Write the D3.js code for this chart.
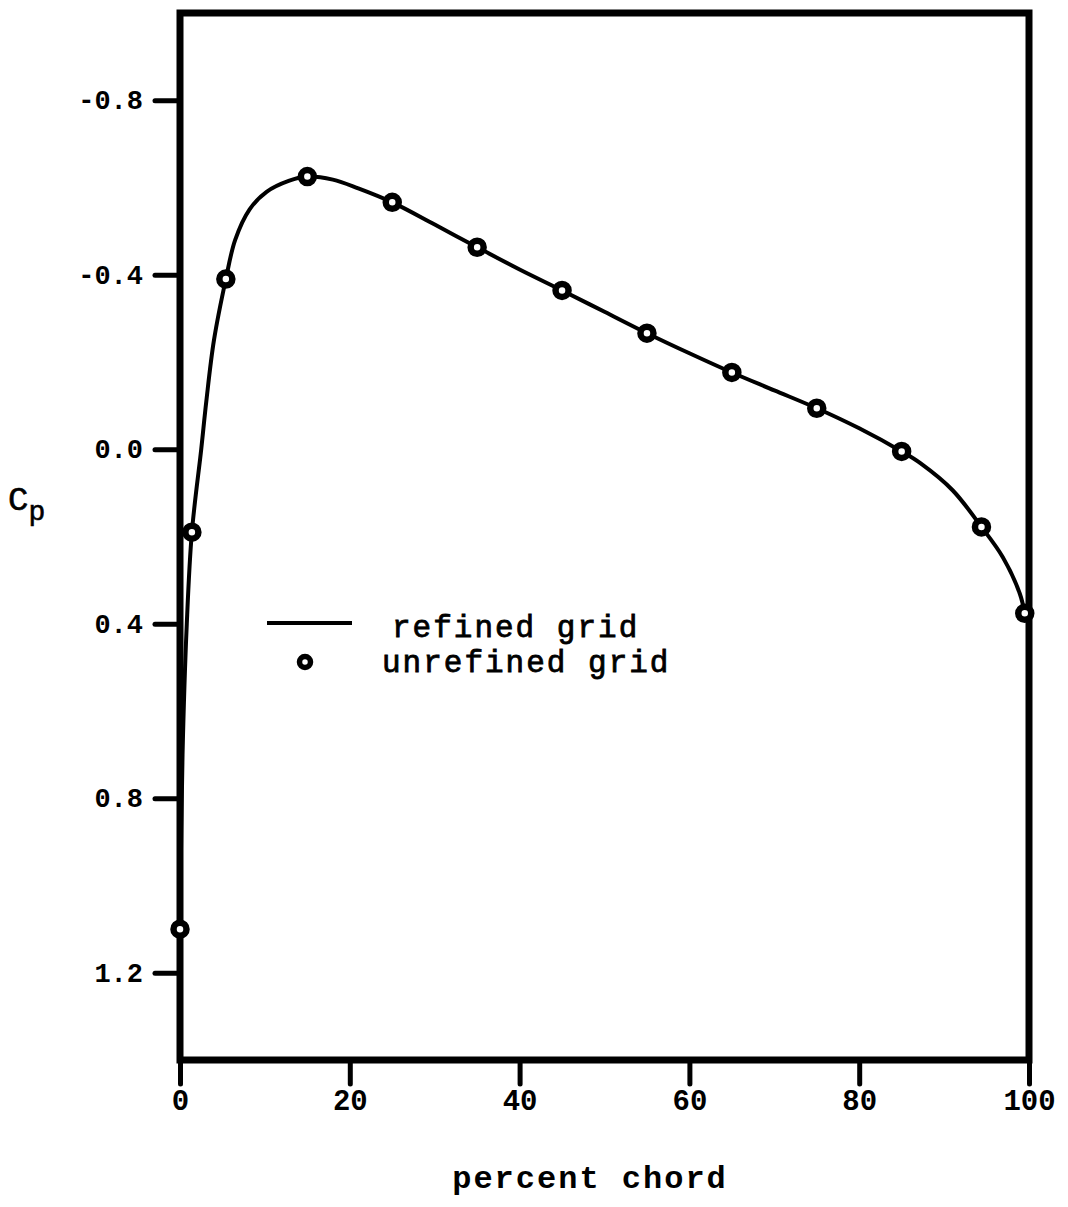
<!DOCTYPE html>
<html>
<head>
<meta charset="utf-8">
<script src="https://cdn.jsdelivr.net/npm/d3@7"></script>
<style>
  html, body { margin: 0; padding: 0; background: #fff; }
  svg { display: block; }
</style>
</head>
<body>
<svg id="chart" width="1068" height="1207"></svg>
<script>
// refined grid curve (percent chord, Cp)
const refinedX  = [0, 0.3, 0.8, 1.4, 2.5, 3.1, 4.0, 5.4, 6.5, 8.2, 10.2, 12.8, 15, 18, 21, 25, 30, 35, 40, 45, 50, 55, 60, 65, 70, 75, 80, 85, 87.2, 91, 94.4, 96.9, 98.9, 99.5];
const refinedCp = [1.10, 0.70, 0.40, 0.19, 0.0, -0.11, -0.25, -0.39, -0.48, -0.55, -0.59, -0.615, -0.625, -0.618, -0.598, -0.566, -0.515, -0.463, -0.412, -0.364, -0.315, -0.266, -0.22, -0.176, -0.135, -0.094, -0.048, 0.005, 0.032, 0.094, 0.178, 0.247, 0.33, 0.376];

// unrefined grid points
const unrefinedX  = [0, 1.4, 5.4, 15, 25, 35, 45, 55, 65, 75, 85, 94.4, 99.5];
const unrefinedCp = [1.10, 0.19, -0.39, -0.625, -0.566, -0.463, -0.364, -0.266, -0.176, -0.094, 0.005, 0.178, 0.376];

const xTicks = [0, 20, 40, 60, 80, 100];
const yTicks = [-0.8, -0.4, 0.0, 0.4, 0.8, 1.2];

const svg = d3.select("#chart");
const margin = { top: 13, right: 39, bottom: 147, left: 180 };
const w = 1068, h = 1207;
const font = "'Liberation Mono', 'DejaVu Sans Mono', monospace";

const x = d3.scaleLinear().domain([0, 100]).range([margin.left, w - margin.right]);
const y = d3.scaleLinear().domain([-1.0, 1.4]).range([margin.top, h - margin.bottom]);

// axes with outward ticks
const gx = svg.append("g")
  .attr("transform", `translate(0,${h - margin.bottom})`)
  .call(d3.axisBottom(x).tickValues(xTicks).tickSize(24).tickPadding(5).tickFormat(d3.format("d")));

const gy = svg.append("g")
  .attr("transform", `translate(${margin.left},0)`)
  .call(d3.axisLeft(y).tickValues(yTicks).tickSize(25).tickPadding(12).tickFormat(d3.format(".1f")));

[gx, gy].forEach(g => {
  g.select(".domain").remove();
  g.selectAll(".tick line").attr("stroke", "#000").attr("stroke-width", 5).attr("stroke-linecap", "round");
  g.selectAll(".tick text")
    .attr("fill", "#000")
    .attr("font-family", font)
    .attr("font-weight", "bold")
    .attr("font-size", 27);
});
gx.selectAll(".tick text").attr("font-size", 29);
gy.selectAll(".tick text").text(d => d < 0 ? "-" + Math.abs(d).toFixed(1) : d.toFixed(1));

// frame
svg.append("rect")
  .attr("x", margin.left)
  .attr("y", margin.top)
  .attr("width", w - margin.left - margin.right)
  .attr("height", h - margin.top - margin.bottom)
  .attr("fill", "none")
  .attr("stroke", "#000")
  .attr("stroke-width", 7);

// refined grid curve
const refined = refinedX.map((d, i) => ({ x: d, cp: refinedCp[i] }));
const line = d3.line()
  .x(d => x(d.x))
  .y(d => y(d.cp))
  .curve(d3.curveCatmullRom.alpha(0.5));

svg.append("path")
  .datum(refined)
  .attr("d", line)
  .attr("fill", "none")
  .attr("stroke", "#000")
  .attr("stroke-width", 4);

// unrefined grid markers
const unrefined = unrefinedX.map((d, i) => ({ x: d, cp: unrefinedCp[i] }));
svg.append("g").selectAll("circle")
  .data(unrefined)
  .enter()
  .append("circle")
  .attr("cx", d => x(d.x))
  .attr("cy", d => y(d.cp))
  .attr("r", 6.5)
  .attr("fill", "#fff")
  .attr("stroke", "#000")
  .attr("stroke-width", 6.5);

// legend
const leg = svg.append("g");
leg.append("line")
  .attr("x1", 267).attr("x2", 352)
  .attr("y1", 623).attr("y2", 623)
  .attr("stroke", "#000").attr("stroke-width", 4);
leg.append("text")
  .attr("x", 392).attr("y", 637)
  .attr("font-family", font).attr("font-size", 31)
  .attr("letter-spacing", 2)
  .attr("stroke", "#000").attr("stroke-width", 0.8)
  .text("refined grid");
leg.append("circle")
  .attr("cx", 305).attr("cy", 662)
  .attr("r", 5.5)
  .attr("fill", "#fff").attr("stroke", "#000").attr("stroke-width", 5.5);
leg.append("text")
  .attr("x", 382).attr("y", 672)
  .attr("font-family", font).attr("font-size", 31)
  .attr("letter-spacing", 2)
  .attr("stroke", "#000").attr("stroke-width", 0.8)
  .text("unrefined grid");

// axis titles
svg.append("text")
  .attr("x", 590)
  .attr("y", 1188)
  .attr("text-anchor", "middle")
  .attr("font-family", font).attr("font-size", 32)
  .attr("font-weight", "bold")
  .attr("letter-spacing", 2)
  .text("percent chord");

const cp = svg.append("text")
  .attr("x", 8).attr("y", 510)
  .attr("font-family", font).attr("font-size", 34)
  .attr("stroke", "#000").attr("stroke-width", 0.6);
cp.append("tspan").text("C");
cp.append("tspan").attr("dy", 10).attr("font-size", 28).text("p");
</script>
</body>
</html>
